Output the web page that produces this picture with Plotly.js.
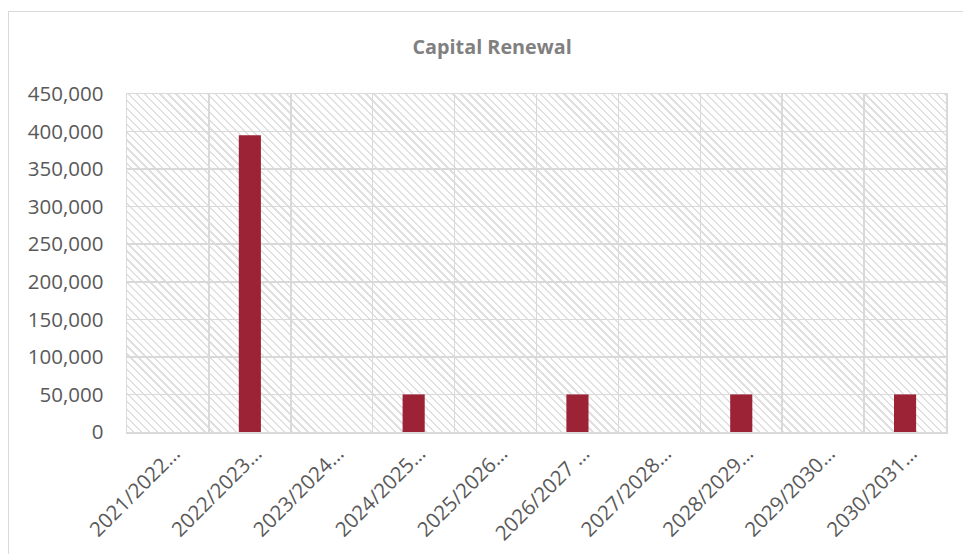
<!DOCTYPE html>
<html>
<head>
<meta charset="utf-8">
<script src="https://cdn.plot.ly/plotly-3.0.1.min.js"></script>
<style>
  html, body { margin: 0; padding: 0; background: #fff; }
  #wrap { position: relative; width: 963px; height: 554px; overflow: hidden; }
  #frame { position: absolute; left: 8px; top: 11px; width: 980px; height: 600px;
           border-left: 1.5px solid #d9d9d9; border-top: 1.5px solid #d9d9d9; box-sizing: border-box; }
  #hatch { position: absolute; left: 127px; top: 94px; width: 819px; height: 338px;
           background: repeating-linear-gradient(45deg, #ffffff 0px, #ffffff 4px, #e0e0e0 4px, #e0e0e0 5.6px); }
  #chart { position: absolute; left: 0; top: 0; width: 963px; height: 554px; }
</style>
</head>
<body>
<div id="wrap">
  <div id="frame"></div>
  <div id="hatch"></div>
  <div id="chart"></div>
</div>
<script>
const categories = ["2021/2022…", "2022/2023…", "2023/2024…", "2024/2025…", "2025/2026…",
                    "2026/2027 …", "2027/2028…", "2028/2029…", "2029/2030…", "2030/2031…"];
const values = [0, 395000, 0, 50000, 0, 50000, 0, 50000, 0, 50000];
const yTicks = [0, 50000, 100000, 150000, 200000, 250000, 300000, 350000, 400000, 450000];
const yTickLabels = ["0", "50,000", "100,000", "150,000", "200,000", "250,000", "300,000", "350,000", "400,000", "450,000"];
const chartTitle = "Capital Renewal";

const trace = {
  type: "bar",
  x: categories,
  y: values,
  width: 0.27,
  marker: { color: "#9C2235", line: { width: 0 } },
  hoverinfo: "x+y"
};

const layout = {
  width: 963, height: 554,
  margin: { l: 127, r: 17, t: 94, b: 122 },
  paper_bgcolor: "rgba(0,0,0,0)",
  plot_bgcolor: "rgba(0,0,0,0)",
  showlegend: false,
  title: {
    text: "<b>" + chartTitle + "</b>",
    x: 0.511, xanchor: "center",
    y: 0.915, yanchor: "middle",
    font: { family: "Open Sans, sans-serif", size: 19.8, color: "#808080" }
  },
  xaxis: {
    type: "category",
    range: [-0.5, 9.5],
    tickson: "boundaries",
    showgrid: true, gridcolor: "#d9d9d9", gridwidth: 1.5,
    showline: true, linecolor: "#d9d9d9", linewidth: 1.5, mirror: true,
    ticks: "", tickangle: -45,
    ticklabelshift: 6, ticklabelstandoff: 0,
    tickfont: { family: "Open Sans, sans-serif", size: 20.5, color: "#595959" },
    fixedrange: true
  },
  yaxis: {
    range: [0, 450000],
    tickvals: yTicks, ticktext: yTickLabels,
    showgrid: true, gridcolor: "#d9d9d9", gridwidth: 1.5,
    showline: true, linecolor: "#d9d9d9", linewidth: 1.5, mirror: true,
    zeroline: false,
    ticks: "", ticklabelstandoff: 18,
    tickfont: { family: "Open Sans, sans-serif", size: 20.5, color: "#595959" },
    fixedrange: true
  }
};

Plotly.newPlot("chart", [trace], layout, { displayModeBar: false, staticPlot: true });
</script>
</body>
</html>
